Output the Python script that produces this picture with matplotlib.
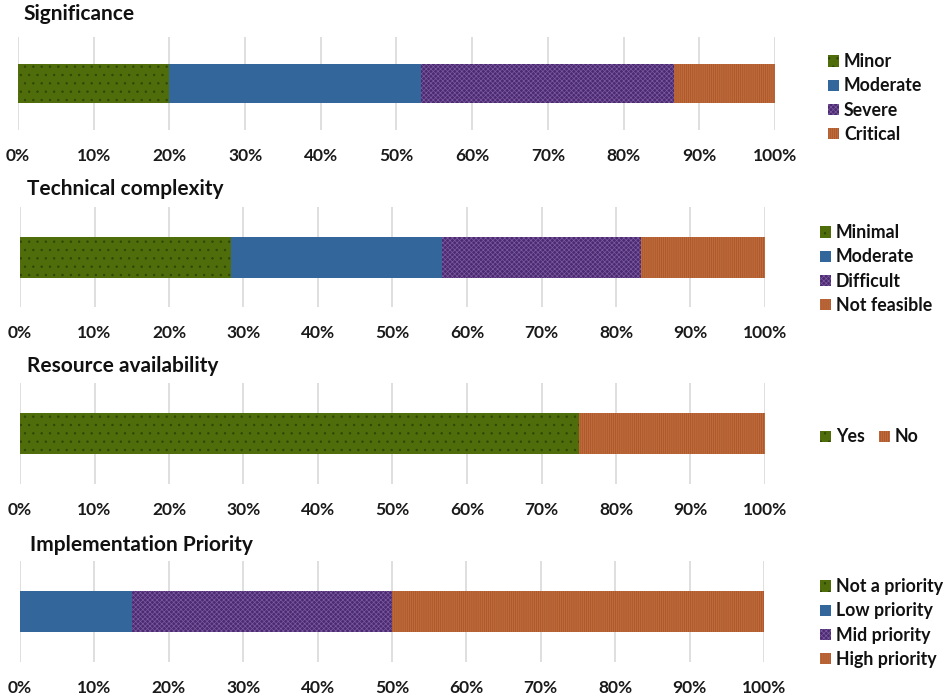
import matplotlib
matplotlib.use("Agg")
import matplotlib.pyplot as plt
from matplotlib.ticker import FuncFormatter

plt.rcParams['font.family'] = ['Lato', 'DejaVu Sans']
plt.rcParams['font.weight'] = 'bold'
plt.rcParams['hatch.linewidth'] = 0.5

# ---- data ----
titles = ["Significance", "Technical complexity", "Resource availability", "Implementation Priority"]

sig_labels = ["Minor", "Moderate", "Severe", "Critical"]
sig_values = [20.0, 33.3, 33.4, 13.3]

tech_labels = ["Minimal", "Moderate", "Difficult", "Not feasible"]
tech_values = [28.3, 28.4, 26.6, 16.7]

res_labels = ["Yes", "No"]
res_values = [75.0, 25.0]

impl_labels = ["Not a priority", "Low priority", "Mid priority", "High priority"]
impl_values = [0.0, 15.0, 35.0, 50.0]

ticks = [0, 10, 20, 30, 40, 50, 60, 70, 80, 90, 100]

# ---- styles (fill, hatch colour, hatch) ----
styles4 = [("#4f6e0b", "#2f4605", ".."),
           ("#33669a", "#33669a", None),
           ("#4c2a70", "#7a5aa2", "xxxxxxx"),
           ("#c06a3c", "#a65528", "||||||||")]
styles2 = [styles4[0], styles4[3]]

W, H = 945, 696
fig = plt.figure(figsize=(W / 100, H / 100), dpi=100)

# panel geometry in pixels: (x0, x1, ytop, ybot, title_x, title_y, legend_x, legend_y, ncol)
panels = [
    (18, 775, 37, 130, 23, 14, 828, 98, 1),
    (20, 765, 207, 307, 27, 189, 820, 269, 1),
    (20, 765, 383, 484, 27, 366, 820, 437, 2),
    (20, 764, 561, 662, 30, 545, 820, 623, 1),
]
datasets = [(sig_labels, sig_values, styles4),
            (tech_labels, tech_values, styles4),
            (res_labels, res_values, styles2),
            (impl_labels, impl_values, styles4)]

for (x0, x1, yt, yb, tx, ty, lx, ly, ncol), title, (labels, values, sty) in zip(panels, titles, datasets):
    ax = fig.add_axes([x0 / W, 1 - yb / H, (x1 - x0) / W, (yb - yt) / H])
    left = 0.0
    handles = []
    for lab, val, (fc, hc, ht) in zip(labels, values, sty):
        b = ax.barh(0, val, left=left, height=0.41, color=fc, edgecolor=hc,
                    linewidth=0, hatch=ht, label=lab, zorder=3)
        handles.append(b)
        left += val
    ax.set_xlim(0, 100)
    ax.set_ylim(-0.5, 0.5)
    ax.set_xticks(ticks)
    ax.xaxis.set_major_formatter(FuncFormatter(lambda v, p: f"{int(v)}%"))
    ax.set_yticks([])
    ax.grid(axis='x', color='#d9d9d9', linewidth=1.2, zorder=0)
    for s in ax.spines.values():
        s.set_visible(False)
    ax.tick_params(axis='x', length=0, pad=13, labelsize=12.5, labelcolor='#1a1a1a')
    for t in ax.get_xticklabels():
        t.set_fontweight('bold')
    fig.text(tx / W, 1 - ty / H, title, fontsize=15, fontweight='bold',
             color='#111111', ha='left', va='center')
    leg = fig.legend(handles=handles, labels=labels, loc='center left',
                     bbox_to_anchor=(lx / W, 1 - ly / H), ncol=ncol, frameon=False,
                     fontsize=12.8, handlelength=0.6, handleheight=0.6,
                     handletextpad=0.3, labelspacing=0.4, columnspacing=0.8,
                     borderpad=0, borderaxespad=0)
    for t in leg.get_texts():
        t.set_fontweight('bold')
        t.set_color('#111111')

fig.savefig("out.png", dpi=100, facecolor='white')
